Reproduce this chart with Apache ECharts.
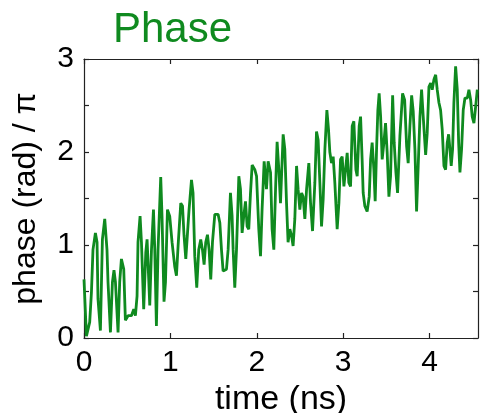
<!DOCTYPE html>
<html><head><meta charset="utf-8">
<script src="https://cdn.jsdelivr.net/npm/echarts@6/dist/echarts.min.js"></script>
<style>html,body{margin:0;padding:0;background:#fff}#c{width:481px;height:413px}</style>
</head><body><div id="c"></div>
<script>
const titleText = "Phase";
const xName = "time (ns)";
const yName = "phase (rad) / π";
const xTicks = [0, 1, 2, 3, 4];
const yTicks = [0, 1, 2, 3];
const timeNs = [0,0.028,0.066,0.086,0.104,0.132,0.151,0.162,0.190,0.213,0.240,0.266,0.278,0.306,0.329,0.347,0.364,0.394,0.413,0.433,0.460,0.479,0.510,0.549,0.576,0.595,0.614,0.625,0.649,0.665,0.691,0.715,0.730,0.749,0.761,0.781,0.804,0.819,0.838,0.857,0.888,0.903,0.926,0.943,0.966,0.992,1.019,1.050,1.070,1.089,1.120,1.140,1.158,1.178,1.193,1.216,1.244,1.262,1.282,1.305,1.328,1.351,1.371,1.390,1.409,1.429,1.448,1.467,1.487,1.514,1.552,1.572,1.591,1.610,1.649,1.668,1.695,1.714,1.726,1.745,1.765,1.792,1.811,1.830,1.849,1.869,1.888,1.907,1.927,1.946,1.977,1.997,2.023,2.043,2.061,2.085,2.112,2.131,2.159,2.177,2.197,2.217,2.235,2.255,2.274,2.305,2.324,2.344,2.362,2.382,2.402,2.420,2.440,2.460,2.478,2.498,2.518,2.536,2.556,2.576,2.602,2.622,2.645,2.672,2.691,2.710,2.730,2.749,2.768,2.788,2.811,2.830,2.845,2.865,2.884,2.903,2.930,2.950,2.969,2.988,3.008,3.027,3.046,3.065,3.085,3.104,3.123,3.147,3.162,3.185,3.201,3.219,3.231,3.250,3.277,3.301,3.317,3.335,3.355,3.370,3.386,3.401,3.416,3.433,3.451,3.471,3.490,3.509,3.529,3.548,3.572,3.590,3.610,3.629,3.656,3.687,3.711,3.734,3.752,3.772,3.792,3.810,3.830,3.849,3.868,3.888,3.907,3.926,3.954,3.972,3.992,4.012,4.030,4.050,4.070,4.088,4.108,4.127,4.146,4.166,4.185,4.204,4.220,4.235,4.250,4.266,4.281,4.301,4.320,4.336,4.351,4.370,4.389,4.409,4.436,4.455,4.475,4.493,4.513,4.533,4.552];
const phase = [0.63,0.02,0.17,0.49,0.95,1.13,1.03,0.42,0.08,1.06,1.28,0.95,0.60,0.06,0.60,0.73,0.60,0.06,0.60,0.85,0.74,0.19,0.24,0.24,0.31,0.24,0.45,1.03,1.31,1.03,0.31,0.92,1.06,0.63,0.35,0.95,1.38,0.95,0.13,0.95,1.73,1.31,0.39,0.60,1.38,1.31,1.03,0.77,0.67,0.99,1.45,1.42,1.10,0.85,0.85,1.38,1.70,1.56,0.88,0.54,0.95,1.06,0.95,0.79,1.03,1.11,0.95,0.63,1.03,1.33,1.33,1.24,0.95,0.72,0.74,0.95,1.56,1.31,0.95,0.54,0.95,1.74,1.60,1.13,1.31,1.47,1.20,1.17,1.56,1.86,1.81,1.74,1.17,0.88,1.38,1.90,1.60,1.90,1.78,1.17,0.95,1.60,2.11,1.81,1.45,2.19,2.03,1.45,1.03,1.17,1.10,0.99,1.28,1.85,1.60,1.38,1.56,1.52,1.28,1.60,1.88,1.45,1.15,1.67,2.22,2.13,1.67,1.20,1.49,2.03,2.45,2.24,2.00,1.88,1.95,1.67,1.17,1.45,1.92,1.95,1.63,1.81,1.99,1.67,1.63,2.28,2.33,1.81,1.74,2.28,2.38,1.92,1.56,1.42,1.36,1.52,1.92,2.10,1.81,1.47,2.03,2.45,2.63,2.38,1.92,2.10,2.31,1.99,1.52,1.74,2.61,2.10,1.78,1.56,2.17,2.63,2.56,2.06,1.88,2.28,2.61,2.44,2.03,1.36,1.85,2.38,2.67,2.38,1.97,2.20,2.70,2.74,2.67,2.78,2.83,2.67,2.53,2.45,2.24,1.85,1.81,2.10,2.19,2.03,1.85,2.03,2.53,2.92,2.67,2.10,1.78,2.03,2.45,2.58,2.58,2.67,2.56,2.38,2.31,2.49,2.67];

const green = '#0f8a1f';
const font = 'Liberation Sans, Arial, sans-serif';
const xMax = 4.56;
const chart = echarts.init(document.getElementById('c'), null, {renderer: 'canvas'});
const axisLine = {show: true, onZero: false, lineStyle: {color: '#222', width: 1.2}};
const tick = {show: true, inside: true, length: 5, lineStyle: {color: '#222', width: 1.2}};
chart.setOption({
  animation: false,
  backgroundColor: '#fff',
  title: {text: titleText, left: 108, top: 4, textStyle: {color: green, fontSize: 42, fontWeight: 'normal', fontFamily: font}},
  grid: {left: 84, top: 59, right: 3, bottom: 75, containLabel: false, outerBoundsMode: 'none'},
  xAxis: [
    {type: 'value', min: 0, max: xMax, interval: 1, position: 'bottom',
     name: xName, nameLocation: 'middle', nameGap: 42,
     nameTextStyle: {fontSize: 34, color: '#000', fontFamily: font},
     axisLine: axisLine, axisTick: tick, splitLine: {show: false},
     axisLabel: {formatter: v => xTicks.includes(v) ? String(v) : '', fontSize: 30, color: '#000', fontFamily: font, margin: 10, showMaxLabel: false, hideOverlap: false}},
    {type: 'value', min: 0, max: xMax, interval: 1, position: 'top',
     axisLine: axisLine, axisTick: tick, splitLine: {show: false}, axisLabel: {show: false}}
  ],
  yAxis: [
    {type: 'value', min: 0, max: 3, interval: 0.5, position: 'left',
     name: yName, nameLocation: 'middle', nameGap: 42,
     nameTextStyle: {fontSize: 32, color: '#000', fontFamily: font},
     axisLine: axisLine, axisTick: tick, splitLine: {show: false},
     axisLabel: {formatter: v => yTicks.includes(v) ? String(v) : '', fontSize: 30, color: '#000', fontFamily: font, margin: 10, hideOverlap: false}},
    {type: 'value', min: 0, max: 3, interval: 0.5, position: 'right',
     axisLine: axisLine, axisTick: tick, splitLine: {show: false}, axisLabel: {show: false}}
  ],
  series: [{
    type: 'line', xAxisIndex: 0, yAxisIndex: 0,
    data: timeNs.map((t, i) => [t, phase[i]]),
    showSymbol: false, symbol: 'none',
    lineStyle: {color: green, width: 2.8},
    clip: true
  }]
});
</script></body></html>
